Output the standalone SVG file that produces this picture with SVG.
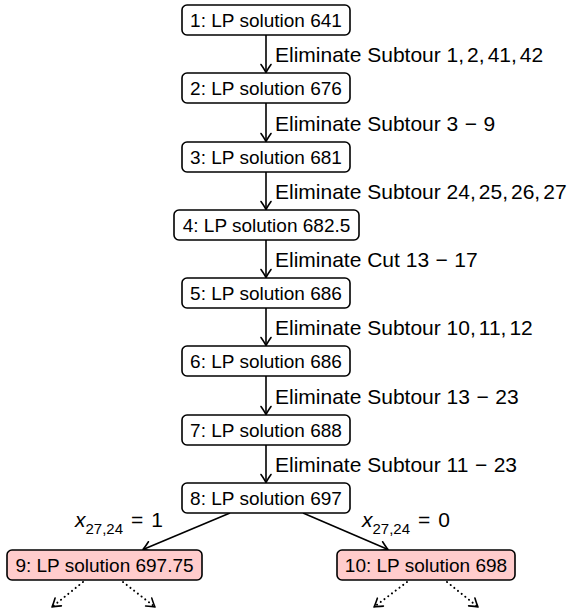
<svg xmlns="http://www.w3.org/2000/svg" width="575" height="610" viewBox="0 0 575 610">
<defs>
<marker id="ah" markerUnits="userSpaceOnUse" markerWidth="16" markerHeight="16" viewBox="-11 -8 16 16" refX="0" refY="0" orient="auto">
<path d="M-8,-5 Q-2.5,-1.2 0,0 Q-2.5,1.2 -8,5" fill="none" stroke="#000" stroke-width="1.6" stroke-linecap="round" stroke-linejoin="round"/>
</marker>
<style>
.box{fill:#fff;stroke:#000;stroke-width:1.6}
.red{fill:#ffcccc}
.nt{font-family:"Liberation Sans",Arial,sans-serif;font-size:19px;text-anchor:middle;fill:#000}
.lb{font-family:"Liberation Sans",Arial,sans-serif;font-size:21px;fill:#000}
.e{stroke:#000;stroke-width:1.6;fill:none;marker-end:url(#ah)}
.d{stroke:#000;stroke-width:2;fill:none;stroke-dasharray:0.1 4.6;stroke-linecap:round;marker-end:url(#ah)}
</style>
</defs>
<g id="connectors">
<line class="e" x1="266" y1="35" x2="266" y2="72.5"/>
<line class="e" x1="266" y1="103" x2="266" y2="141.5"/>
<line class="e" x1="266" y1="172" x2="266" y2="209.5"/>
<line class="e" x1="266" y1="240" x2="266" y2="277.5"/>
<line class="e" x1="266" y1="308" x2="266" y2="345.5"/>
<line class="e" x1="266" y1="376" x2="266" y2="414.5"/>
<line class="e" x1="266" y1="445" x2="266" y2="482.5"/>
<line class="e" x1="230" y1="513" x2="143" y2="549.5"/>
<line class="e" x1="303" y1="513" x2="388" y2="549.5"/>
<line class="d" x1="83" y1="582" x2="52" y2="607"/>
<line class="d" x1="123" y1="582" x2="155" y2="607"/>
<line class="d" x1="407" y1="582" x2="374" y2="607"/>
<line class="d" x1="447" y1="582" x2="478" y2="607"/>
<text class="lb" x="275" y="62">Eliminate Subtour 1,<tspan dx="3">2,</tspan><tspan dx="3">41,</tspan><tspan dx="3">42</tspan></text>
<text class="lb" x="275" y="130.5">Eliminate Subtour 3<tspan dx="6.5">−</tspan><tspan dx="6.5">9</tspan></text>
<text class="lb" x="275" y="199">Eliminate Subtour 24,<tspan dx="3">25,</tspan><tspan dx="3">26,</tspan><tspan dx="3">27</tspan></text>
<text class="lb" x="275" y="267">Eliminate Cut 13<tspan dx="6.5">−</tspan><tspan dx="6.5">17</tspan></text>
<text class="lb" x="275" y="335">Eliminate Subtour 10,<tspan dx="3">11,</tspan><tspan dx="3">12</tspan></text>
<text class="lb" x="275" y="403.5">Eliminate Subtour 13<tspan dx="6.5">−</tspan><tspan dx="6.5">23</tspan></text>
<text class="lb" x="275" y="472">Eliminate Subtour 11<tspan dx="6.5">−</tspan><tspan dx="6.5">23</tspan></text>
<text class="lb" x="75" y="527"><tspan font-style="italic">x</tspan><tspan font-size="15" dy="7">27,24</tspan><tspan dy="-7" dx="8">=</tspan><tspan dx="8">1</tspan></text>
<text class="lb" x="362" y="527"><tspan font-style="italic">x</tspan><tspan font-size="15" dy="7">27,24</tspan><tspan dy="-7" dx="8">=</tspan><tspan dx="8">0</tspan></text>
</g>
<g id="n1"><rect class="box" x="182" y="5" width="168" height="30" rx="5"/><text class="nt" x="266" y="27">1: LP solution 641</text></g>
<g id="n2"><rect class="box" x="182" y="73" width="168" height="30" rx="5"/><text class="nt" x="266" y="95">2: LP solution 676</text></g>
<g id="n3"><rect class="box" x="182" y="142" width="168" height="30" rx="5"/><text class="nt" x="266" y="164">3: LP solution 681</text></g>
<g id="n4"><rect class="box" x="174" y="210" width="185" height="30" rx="5"/><text class="nt" x="266.5" y="232">4: LP solution 682.5</text></g>
<g id="n5"><rect class="box" x="182" y="278" width="168" height="30" rx="5"/><text class="nt" x="266" y="300">5: LP solution 686</text></g>
<g id="n6"><rect class="box" x="182" y="346" width="168" height="30" rx="5"/><text class="nt" x="266" y="368">6: LP solution 686</text></g>
<g id="n7"><rect class="box" x="182" y="415" width="168" height="30" rx="5"/><text class="nt" x="266" y="437">7: LP solution 688</text></g>
<g id="n8"><rect class="box" x="182" y="483" width="168" height="30" rx="5"/><text class="nt" x="266" y="505">8: LP solution 697</text></g>
<g id="n9"><rect class="box red" x="7" y="550" width="195" height="30" rx="5"/><text class="nt" x="104.5" y="572">9: LP solution 697.75</text></g>
<g id="n10"><rect class="box red" x="337" y="550" width="178" height="30" rx="5"/><text class="nt" x="426" y="572">10: LP solution 698</text></g>
</svg>
